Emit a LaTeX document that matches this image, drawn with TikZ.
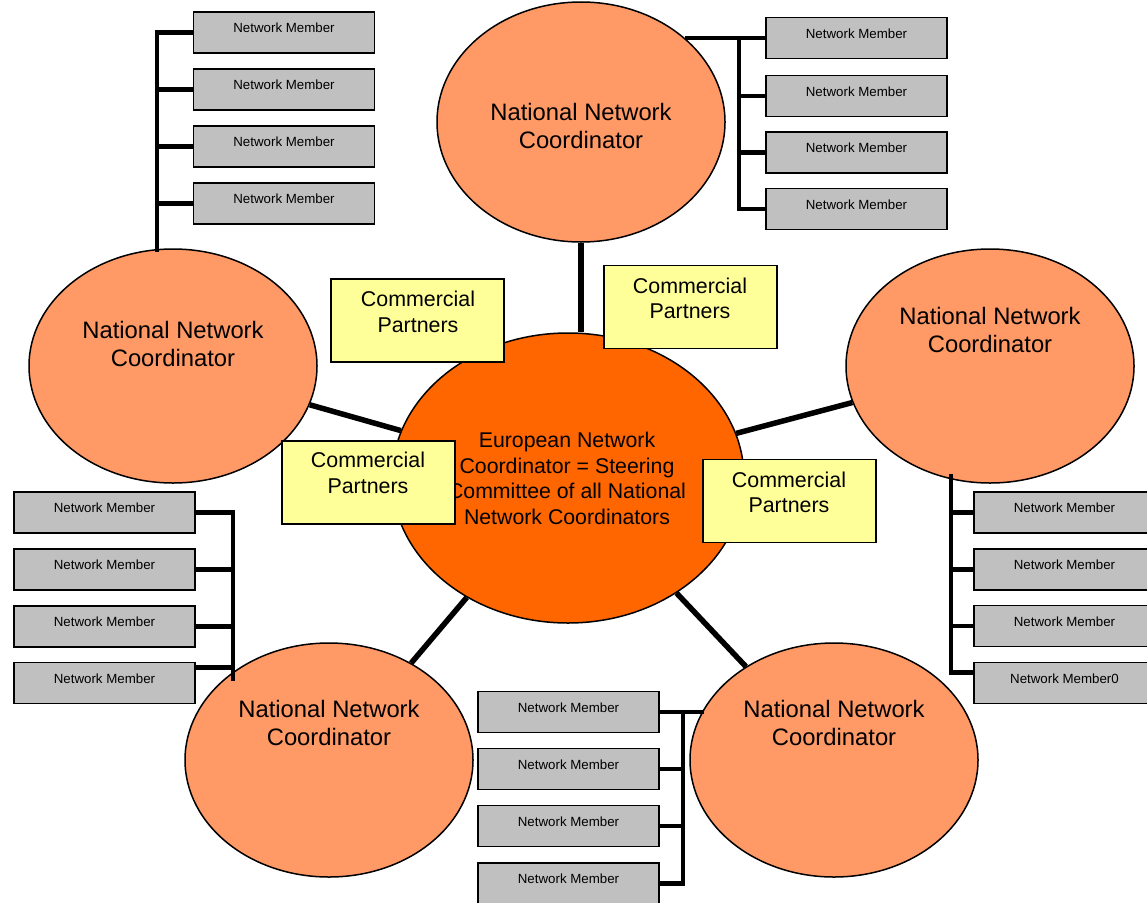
\documentclass[tikz,border=0pt]{standalone}
\usepackage{fontspec}
\setmainfont{Liberation Sans}
\usetikzlibrary{shapes.geometric}
\definecolor{nncorange}{HTML}{FF9966}
\definecolor{encorange}{HTML}{FF6600}
\definecolor{partneryellow}{HTML}{FFFF99}
\definecolor{membergray}{HTML}{C0C0C0}
\begin{document}
\begin{tikzpicture}[x=1pt, y=-1pt,
    nnc/.style={ellipse, draw, line width=1.5pt, fill=nncorange, minimum width=288pt, minimum height=234pt, inner sep=0pt},
    enc/.style={ellipse, draw, line width=1.5pt, fill=encorange, minimum width=352pt, minimum height=290pt, inner sep=0pt},
    nnctext/.style={align=center, font=\fontsize{23.8}{28}\selectfont, inner sep=0pt},
    enctext/.style={align=center, font=\fontsize{21.3}{25.7}\selectfont, inner sep=0pt},
    partner/.style={draw, line width=1.5pt, fill=partneryellow, minimum width=173pt, minimum height=83pt, inner sep=0pt},
    partnertext/.style={align=center, font=\fontsize{21.4}{25.5}\selectfont, inner sep=0pt},
    member/.style={draw, line width=1.6pt, fill=membergray, minimum width=181pt, minimum height=41pt, inner sep=0pt,
        font=\fontsize{13.3}{16}\selectfont, text height=10pt, text depth=9.5pt},
    link/.style={line width=5.5pt},
    bus/.style={line width=4.5pt}]
    \useasboundingbox (0,0) rectangle (1147,902);

    % Coordinatori
    \node[nnc] (ntop) at (581,122) [minimum height=240pt] {};
    \node[nnc] (nleft) at (173,366) {};
    \node[nnc] (nright) at (990,366) {};
    \node[nnc] (nbl) at (329,760) {};
    \node[nnc] (nbr) at (834,760) {};
    \node[enc] (enc) at (568,478) {};

    \node[nnctext] (ttop) at (581,126) {National Network\\Coordinator};
    \node[nnctext] (tleft) at (173,344) {National Network\\Coordinator};
    \node[nnctext] (tright) at (990,330) {National Network\\Coordinator};
    \node[nnctext] (tbl) at (329,723) {National Network\\Coordinator};
    \node[nnctext] (tbr) at (834,723) {National Network\\Coordinator};
    \node[enctext] (tenc) at (567,478.5) {European Network\\Coordinator = Steering\\Committee of all National\\Network Coordinators};

    % Collegamenti al centro
    \draw[link] (ntop.south) -- (ntop.south |- enc.north);
    \draw[link] (nleft) -- (enc);
    \draw[link] (nright) -- (enc);
    \draw[link] (nbl) -- (enc);
    \draw[link] (nbr) -- (enc);

    % Membri in alto a sinistra
    \foreach \i/\y in {1/32.5, 2/89.5, 3/146.5, 4/203.5}
        \node[member] (tl\i) at (284,\y) {Network Member};
    \coordinate (tlbus) at (157,252);
    \draw[bus] (tl1.west) -| (tlbus);
    \foreach \i in {2,3,4}
        \draw[bus] (tl\i.west) -- (tl\i.west -| tlbus);

    % Membri in alto a destra
    \foreach \i/\y in {1/38, 2/96, 3/152.5, 4/209}
        \node[member] (tr\i) at (856.5,\y) {Network Member};
    \coordinate (trbus) at (739,0);
    \draw[bus] (tr1.west) -- (tr1.west -| ntop.39);
    \draw[bus] (tr1.west -| trbus) |- (tr4.west);
    \foreach \i in {2,3}
        \draw[bus] (tr\i.west) -- (tr\i.west -| trbus);

    % Membri in basso a sinistra
    \foreach \i/\y in {1/512.5, 2/569.5, 3/626.5, 4/683}
        \node[member] (lb\i) at (104.5,\y) {Network Member};
    \coordinate (lbbus) at (233,681);
    \draw[bus] (lb1.east) -| (lbbus);
    \foreach \i in {2,3}
        \draw[bus] (lb\i.east) -- (lb\i.east -| lbbus);
    \draw[bus] ([yshift=-6pt]lb4.north east) -- ([yshift=-6pt]lb4.north east -| lbbus);

    % Membri a destra
    \foreach \i/\y/\t in {1/512.5/Network Member, 2/569.5/Network Member, 3/626/Network Member, 4/683/Network Member0}
        \node[member] (rr\i) at (1064.5,\y) {\t};
    \coordinate (rrbus) at (951,474);
    \draw[bus] (rrbus) |- ([yshift=-11pt]rr4.north west);
    \foreach \i in {1,2,3}
        \draw[bus] (rr\i.west) -- (rr\i.west -| rrbus);

    % Membri in basso al centro
    \foreach \i/\y in {1/712, 2/769, 3/826, 4/883.5}
        \node[member] (bm\i) at (568.5,\y) {Network Member};
    \coordinate (bmbus) at (683,0);
    \draw[bus] (bm1.east) -- (bm1.east -| nbr.158);
    \draw[bus] (bm1.east -| bmbus) |- (bm4.east);
    \foreach \i in {2,3}
        \draw[bus] (bm\i.east) -- (bm\i.east -| bmbus);

    % Partner commerciali
    \node[partner] (pa) at (417.5,320.5) {};
    \node[partner] (pb) at (368.5,482.5) {};
    \node[partner] (pc) at (690.5,307) {};
    \node[partner] (pd) at (789.5,501) {};
    \node[partnertext] (tpa) at (418,312) {Commercial\\Partners};
    \node[partnertext] (tpb) at (368,473) {Commercial\\Partners};
    \node[partnertext] (tpc) at (690,298.5) {Commercial\\Partners};
    \node[partnertext] (tpd) at (789,492.5) {Commercial\\Partners};
\end{tikzpicture}
\end{document}
